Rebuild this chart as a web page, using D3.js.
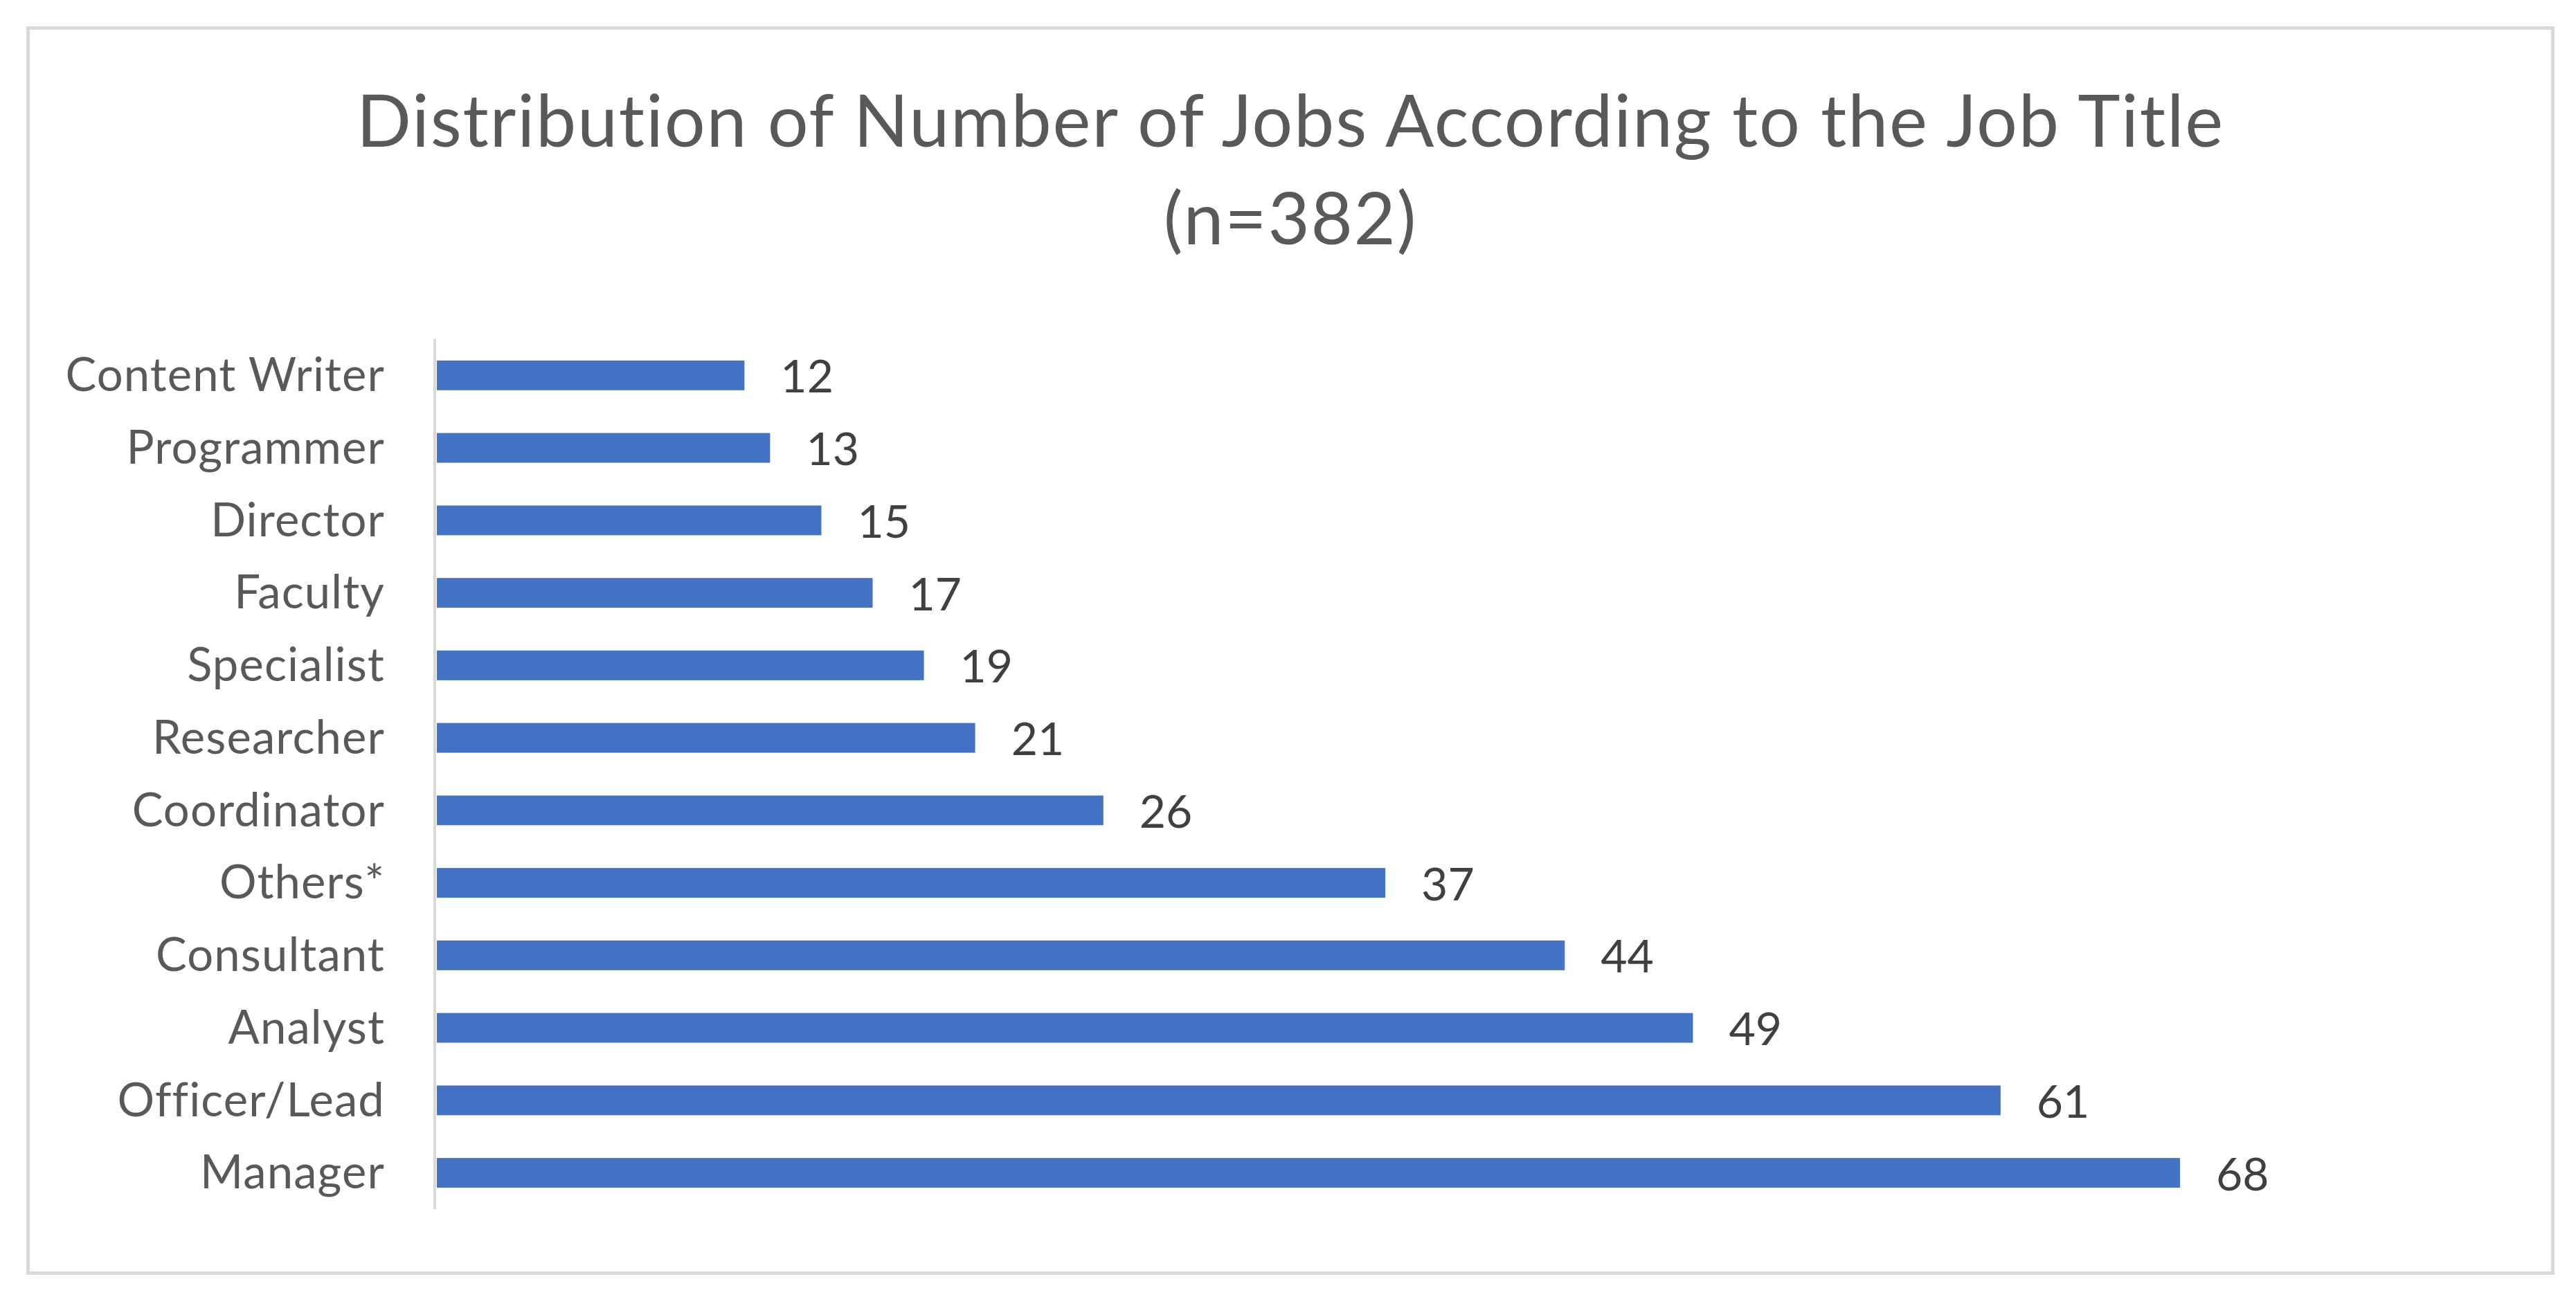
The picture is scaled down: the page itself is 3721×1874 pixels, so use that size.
<!DOCTYPE html>
<html>
<head>
<meta charset="utf-8">
<script src="https://cdn.jsdelivr.net/npm/d3@7"></script>
<style>
  body { margin: 0; background: #fff; }
  svg text { font-family: Lato, "Open Sans", sans-serif; }
</style>
</head>
<body>
<div class="box"></div>
<script>
// chart data
const jobTitles = ["Content Writer", "Programmer", "Director", "Faculty", "Specialist",
                   "Researcher", "Coordinator", "Others*", "Consultant", "Analyst",
                   "Officer/Lead", "Manager"];
const jobCounts = [12, 13, 15, 17, 19, 21, 26, 37, 44, 49, 61, 68];
const titleLines = ["Distribution of Number of Jobs According to the Job Title", "(n=382)"];

const w = 3721;
const h = 1874;

// plot area
const plotLeft = 631;
const plotTop = 490;
const plotBottom = 1747;
const pxPerJob = 37.03;

const svg = d3.select(".box")
              .append("svg")
              .attr("width", w)
              .attr("height", h);

// outer frame
svg.append("rect")
   .attr("x", 40.5)
   .attr("y", 40.5)
   .attr("width", 3647)
   .attr("height", 1799)
   .style("fill", "#fff")
   .style("stroke", "#d9d9d9")
   .style("stroke-width", 5);

// title
svg.append("text")
   .attr("text-anchor", "middle")
   .style("fill", "#595959")
   .style("font-size", "104px")
   .style("letter-spacing", "1.8px")
   .selectAll("tspan")
   .data(titleLines)
   .enter()
   .append("tspan")
   .attr("x", 1864)
   .attr("y", (d, i) => 212 + i * 141)
   .text(d => d);

const xScale = d3.scaleLinear()
                 .domain([0, 1])
                 .range([plotLeft, plotLeft + pxPerJob]);

const yScale = d3.scaleBand()
                 .domain(jobTitles)
                 .range([plotTop, plotBottom])
                 .paddingInner(0.59)
                 .paddingOuter(0.295);

// bars
svg.selectAll(".bar")
   .data(jobCounts)
   .enter()
   .append("rect")
   .attr("class", "bar")
   .attr("x", xScale(0))
   .attr("y", (d, i) => yScale(jobTitles[i]))
   .attr("width", d => xScale(d) - xScale(0))
   .attr("height", yScale.bandwidth())
   .style("fill", "#4472c4");

// category axis
const yAxis = d3.axisLeft(yScale).tickSize(0).tickPadding(72);
const gy = svg.append("g")
              .attr("transform", "translate(" + (plotLeft - 3) + ",0)")
              .call(yAxis);
gy.select(".domain")
  .attr("d", "M0," + plotTop + "V" + plotBottom)
  .style("stroke", "#d9d9d9")
  .style("stroke-width", 4);
gy.selectAll("text")
  .style("font-family", "Lato, sans-serif")
  .style("font-size", "67px")
  .style("letter-spacing", "1.1px")
  .style("fill", "#595959")
  .attr("dy", "0.34em");

// value labels
svg.selectAll(".value")
   .data(jobCounts)
   .enter()
   .append("text")
   .attr("class", "value")
   .attr("x", d => xScale(d) + 52)
   .attr("y", (d, i) => yScale(jobTitles[i]) + yScale.bandwidth() / 2)
   .attr("dy", "0.38em")
   .style("font-size", "66px")
   .style("fill", "#404040")
   .text(d => d);
</script>
</body>
</html>
